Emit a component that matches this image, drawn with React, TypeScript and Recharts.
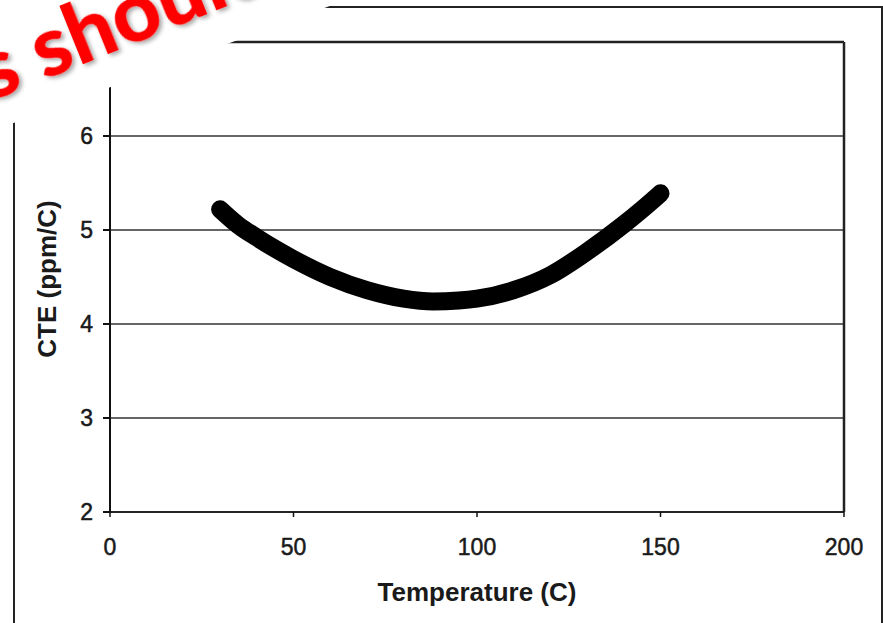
import React from "react";
import { LineChart, Line, XAxis, YAxis, CartesianGrid, ReferenceLine } from "recharts";

const temperature = [30, 35, 40, 45, 50, 60, 70, 80, 88, 95, 100, 110, 120, 130, 140, 145, 150];
const cte = [5.22, 5.05, 4.92, 4.8, 4.69, 4.5, 4.36, 4.27, 4.24, 4.25, 4.27, 4.36, 4.52, 4.77, 5.06, 5.22, 5.39];
const xTicks = [0, 50, 100, 150, 200];
const yTicks = [2, 3, 4, 5, 6];

const data = temperature.map((t, i) => ({ t, cte: cte[i] }));

const FONT = "'Liberation Sans', Arial, sans-serif";
const INK = "#1a1a1a";

function YTitle(props: any) {
  const vb = props.viewBox || {};
  const x = vb.x - 3;
  const y = vb.y + vb.height / 2 + 2;
  return (
    <text x={x} y={y} transform={`rotate(-90, ${x}, ${y})`} textAnchor="middle" dominantBaseline="central"
      style={{ fontFamily: FONT, fontSize: 26, fontWeight: 700, fill: INK }}>
      CTE (ppm/C)
    </text>
  );
}

function XTitle(props: any) {
  const vb = props.viewBox || {};
  return (
    <text x={vb.x + vb.width / 2} y={vb.y + 80} textAnchor="middle" dominantBaseline="central"
      style={{ fontFamily: FONT, fontSize: 26, fontWeight: 700, fill: INK }}>
      Temperature (C)
    </text>
  );
}

export default function App() {
  const tickStyle = { fontFamily: FONT, fontSize: 23, fill: INK, stroke: INK, strokeWidth: 0.5 };
  return (
    <div style={{ position: "absolute", left: 0, top: 0, width: 883, height: 623, overflow: "hidden", background: "#fff" }}>
      {/* outer frame of the pasted figure */}
      <div style={{ position: "absolute", left: 13, top: 6, width: 866, height: 700, border: "2.5px solid #222" }} />

      <div style={{ position: "absolute", left: 0, top: 0 }}>
        <LineChart width={883} height={623} data={data} margin={{ top: 42, right: 39, left: 50, bottom: 51 }}>
          <CartesianGrid vertical={false} stroke="#333" strokeWidth={1.5} />
          <XAxis
            type="number"
            dataKey="t"
            domain={[0, 200]}
            ticks={xTicks}
            height={60}
            tick={tickStyle}
            tickSize={5}
            tickMargin={22}
            stroke="#111"
            strokeWidth={1.5}
            label={<XTitle />}
          />
          <YAxis
            type="number"
            domain={[2, 7]}
            ticks={yTicks}
            width={60}
            tick={tickStyle}
            tickSize={7}
            tickMargin={10}
            stroke="#111"
            strokeWidth={2}
            allowDataOverflow
            label={<YTitle />}
          />
          <ReferenceLine y={7} stroke="#222" strokeWidth={2.5} />
          <ReferenceLine x={200} stroke="#222" strokeWidth={2.5} />
          <Line
            type="monotone"
            dataKey="cte"
            stroke="#000"
            strokeWidth={18}
            strokeLinecap="round"
            dot={false}
            isAnimationActive={false}
          />
        </LineChart>
      </div>

      {/* white banner with red caption across the top-left corner */}
      <svg width={883} height={623} style={{ position: "absolute", left: 0, top: 0, pointerEvents: "none" }}>
        <defs>
          <filter id="shadow" x="-10%" y="-10%" width="130%" height="140%">
            <feDropShadow dx="2" dy="3" stdDeviation="2" floodColor="#000" floodOpacity="0.35" />
          </filter>
        </defs>
        <polygon points="0,0 346,0 0,128" fill="#fff" />
        <g transform="rotate(-22, 44, 80)" filter="url(#shadow)"
          style={{ fontFamily: "Lato, 'Open Sans', sans-serif", fontWeight: 900, fontSize: 84, fill: "#ff0000" }}>
          <text x={24} y={80} textAnchor="end">This</text>
          <text x={44} y={80} textAnchor="start">should</text>
        </g>
      </svg>
    </div>
  );
}
